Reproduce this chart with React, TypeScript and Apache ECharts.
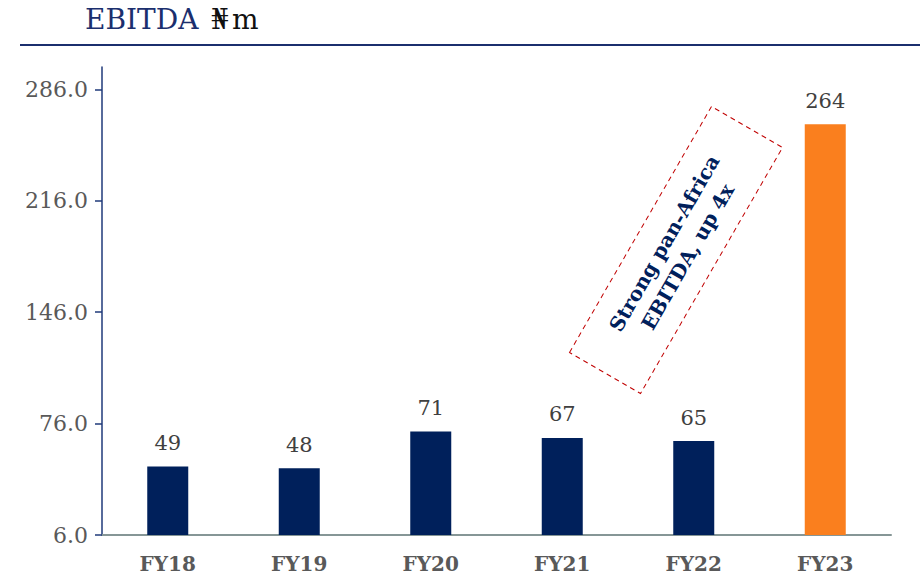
import React, { useEffect, useRef } from "react";
import * as echarts from "echarts";

const categories = ["FY18", "FY19", "FY20", "FY21", "FY22", "FY23"];
const ebitda = [49, 48, 71, 67, 65, 264];
const yTicks = [6, 76, 146, 216, 286];
const highlightIndex = 5;

const NAVY = "#00205B";
const ORANGE = "#FA7F1E";
const SERIF = "Georgia, 'DejaVu Serif', 'Liberation Serif', serif";

export default function App() {
  const ref = useRef<HTMLDivElement>(null);
  useEffect(() => {
    document.body.style.margin = "0";
    const chart = echarts.init(ref.current!, null, { renderer: "svg" });
    chart.setOption({
      animation: false,
      grid: { left: 102, right: 29, top: 67, bottom: 41 },
      xAxis: {
        type: "category",
        data: categories,
        axisLine: { lineStyle: { color: "#869696", width: 2 } },
        axisTick: { show: false },
        axisLabel: {
          color: "#595959",
          fontFamily: SERIF,
          fontWeight: "bold",
          fontSize: 20,
          margin: 19,
        },
      },
      yAxis: {
        type: "value",
        min: 6,
        max: 300,
        splitLine: { show: false },
        axisLine: { show: true, lineStyle: { color: "#1F3A7A", width: 1.5 } },
        axisTick: {
          show: true,
          length: 7,
          lineStyle: { color: "#1F3A7A", width: 1.5 },
          customValues: yTicks,
        },
        axisLabel: {
          color: "#595959",
          fontFamily: SERIF,
          fontSize: 22,
          margin: 14,
          customValues: yTicks,
          formatter: (v: number) => v.toFixed(1),
        },
      },
      series: [
        {
          type: "bar",
          barWidth: 41,
          data: ebitda.map((v, i) => ({
            value: v,
            itemStyle: { color: i === highlightIndex ? ORANGE : NAVY },
          })),
          label: {
            show: true,
            position: "top",
            distance: 13,
            color: "#404040",
            fontFamily: SERIF,
            fontSize: 21,
          },
        },
      ],
      graphic: [
        {
          type: "text",
          left: 85,
          top: 5,
          style: { text: "EBITDA", fill: "#1B2F6E", fontFamily: SERIF, fontSize: 28 },
        },
        {
          type: "text",
          left: 211,
          top: 5,
          style: { text: "₦", fill: "#111111", fontFamily: SERIF, fontSize: 28 },
        },
        {
          type: "text",
          left: 232,
          top: 5,
          style: { text: "m", fill: "#111111", fontFamily: SERIF, fontSize: 28 },
        },
        {
          type: "line",
          shape: { x1: 20, y1: 45, x2: 920, y2: 45 },
          style: { stroke: "#1B2F6E", lineWidth: 2 },
        },
        {
          type: "group",
          x: 676,
          y: 250,
          rotation: (60 * Math.PI) / 180,
          children: [
            {
              type: "rect",
              shape: { x: -142, y: -41, width: 284, height: 82 },
              style: {
                fill: "none",
                stroke: "#C00000",
                lineWidth: 1,
                lineDash: [5, 4],
              },
            },
            {
              type: "text",
              x: 0,
              y: 0,
              style: {
                text: "Strong pan-Africa\nEBITDA, up 4x",
                fill: NAVY,
                fontFamily: SERIF,
                fontWeight: "bold",
                fontSize: 20,
                lineHeight: 27,
                align: "center",
                verticalAlign: "middle",
              },
            },
          ],
        },
      ],
    });
    return () => chart.dispose();
  }, []);
  return <div ref={ref} style={{ width: 920, height: 576 }} />;
}
